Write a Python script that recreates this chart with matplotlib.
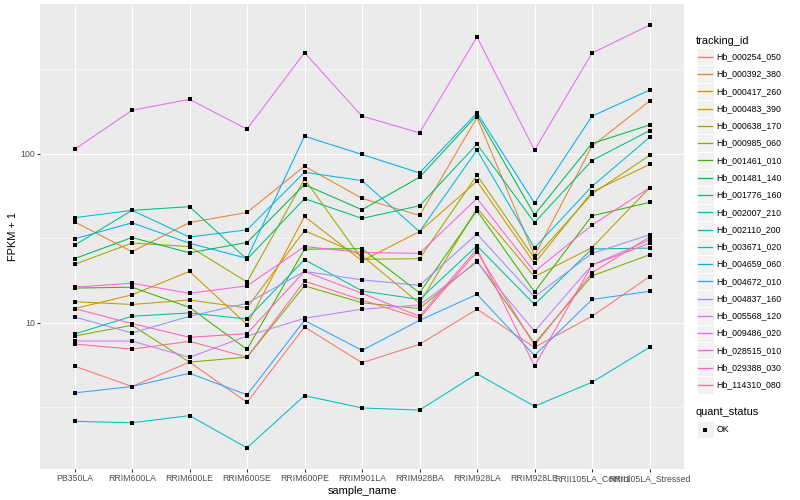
import numpy as np
import matplotlib
matplotlib.use('Agg')
import matplotlib.pyplot as plt
from matplotlib.patches import Rectangle
from matplotlib.lines import Line2D

plt.rcParams['font.family'] = ['Liberation Sans', 'DejaVu Sans']

samples = ['PB350LA', 'RRIM600LA', 'RRIM600LE', 'RRIM600SE', 'RRIM600PE', 'RRIM901LA',
           'RRIM928BA', 'RRIM928LA', 'RRIM928LE', 'RRII105LA_Control', 'RRII105LA_Stressed']

tracking_ids = ['Hb_000254_050', 'Hb_000392_380', 'Hb_000417_260', 'Hb_000483_390',
                'Hb_000638_170', 'Hb_000985_060', 'Hb_001461_010', 'Hb_001481_140',
                'Hb_001776_160', 'Hb_002007_210', 'Hb_002110_200', 'Hb_003671_020',
                'Hb_004659_060', 'Hb_004672_010', 'Hb_004837_160', 'Hb_005568_120',
                'Hb_009486_020', 'Hb_028515_010', 'Hb_029388_030', 'Hb_114310_080']

# FPKM + 1, one list per gene, in sample order
hb_000254_050 = [5.52, 4.18, 5.83, 3.37, 9.41, 5.78, 7.43, 12.0, 7.13, 10.9, 18.7]
hb_000392_380 = [39.5, 26.3, 39.1, 44.9, 84.4, 54.4, 43.1, 164, 24.9, 111, 205]
hb_000417_260 = [12.1, 14.6, 20.1, 9.73, 42.5, 23.2, 34.6, 68.7, 22.4, 59.4, 86.4]
hb_000483_390 = [13.3, 12.8, 13.6, 12.2, 35.1, 24.9, 13.0, 47.7, 18.7, 27.8, 62.8]
hb_000638_170 = [22.1, 29.6, 28.2, 17.4, 70.8, 23.7, 23.9, 74.6, 24.0, 57.8, 97.7]
hb_000985_060 = [8.32, 9.64, 5.83, 6.24, 16.5, 13.1, 12.1, 23.2, 7.53, 18.9, 25.2]
hb_001461_010 = [16.0, 16.2, 12.3, 6.93, 27.2, 27.4, 15.0, 46.0, 15.2, 42.9, 51.5]
hb_001481_140 = [23.9, 31.9, 25.9, 29.8, 65.7, 46.6, 72.6, 169, 43.5, 115, 148]
hb_001776_160 = [28.7, 46.2, 48.6, 23.7, 54.2, 41.4, 49.2, 114, 39.1, 91.2, 137]
hb_002007_210 = [8.55, 10.9, 11.4, 10.5, 23.6, 15.4, 13.7, 28.5, 12.8, 27.3, 27.6]
hb_002110_200 = [2.60, 2.55, 2.81, 1.81, 3.69, 3.12, 3.03, 4.97, 3.19, 4.43, 7.13]
hb_003671_020 = [41.8, 46.2, 32.1, 35.4, 77.7, 69.3, 34.6, 105, 27.7, 64.1, 125]
hb_004659_060 = [31.3, 39.0, 29.5, 24.0, 127, 99, 77, 175, 51, 167, 238]
hb_004672_010 = [3.83, 4.18, 5.01, 3.73, 10.3, 6.84, 10.3, 14.7, 6.38, 13.7, 15.3]
hb_004837_160 = [10.8, 8.67, 10.9, 13.0, 20.1, 17.9, 16.6, 33.5, 14.2, 25.7, 33.1]
hb_005568_120 = [7.77, 7.77, 6.22, 8.32, 10.6, 12.0, 12.7, 22.8, 8.87, 21.9, 30.9]
hb_009486_020 = [106, 181, 210, 140, 397, 167, 133, 492, 105, 395, 578]
hb_028515_010 = [16.2, 17.1, 14.9, 16.5, 28.2, 26.0, 25.7, 54.4, 20.0, 37.8, 62.8]
hb_029388_030 = [12.1, 9.86, 8.18, 8.6, 20.1, 14.9, 10.9, 27.3, 5.52, 21.9, 29.5]
hb_114310_080 = [7.46, 6.96, 7.74, 6.24, 17.6, 13.6, 10.6, 26.3, 7.33, 19.7, 32.1]

series = [hb_000254_050, hb_000392_380, hb_000417_260, hb_000483_390, hb_000638_170,
          hb_000985_060, hb_001461_010, hb_001481_140, hb_001776_160, hb_002007_210,
          hb_002110_200, hb_003671_020, hb_004659_060, hb_004672_010, hb_004837_160,
          hb_005568_120, hb_009486_020, hb_028515_010, hb_029388_030, hb_114310_080]

# ggplot hue palette for 20 levels
colors = ['#F8766D', '#EA8331', '#D89000', '#C09B00', '#A3A500', '#7CAE00', '#39B600',
          '#00BB4E', '#00BF7D', '#00C1A3', '#00BFC4', '#00BAE0', '#00B0F6', '#35A2FF',
          '#9590FF', '#C77CFF', '#E76BF3', '#FA62DB', '#FF62BC', '#FF6C91']

W, H = 800, 500
fig = plt.figure(figsize=(W / 72, H / 72), dpi=72)
ax = fig.add_axes([40 / W, 1 - 469 / H, 644 / W, 465 / H])
ax.set_facecolor('#EBEBEB')

x = np.arange(len(samples))
for i, (vals, c) in enumerate(zip(series, colors)):
    ax.plot(x, vals, color=c, lw=1.05, zorder=3 + i * 0.01, solid_capstyle='butt')
for vals in series:
    ax.plot(x, vals, ls='none', marker='s', ms=3.6, color='black', mew=0, zorder=5)

ax.set_yscale('log')
allv = np.log10(np.concatenate([np.array(s) for s in series]))
lo, hi = allv.min(), allv.max()
pad = (hi - lo) * 0.05
ax.set_ylim(10 ** (lo - pad), 10 ** (hi + pad))
ax.set_xlim(-0.6, len(samples) - 0.4)

ax.set_yticks([10, 100])
ax.set_yticklabels(['10', '100'])
ax.set_yticks([10 ** 0.5, 10 ** 1.5, 10 ** 2.5], minor=True)
ax.yaxis.set_minor_formatter(plt.NullFormatter())
ax.set_xticks(x)
ax.set_xticklabels(samples)

ax.grid(True, which='major', color='white', lw=1.07, zorder=1)
ax.grid(True, which='minor', axis='y', color='white', lw=0.53, zorder=1)
ax.set_axisbelow(True)
for s in ax.spines.values():
    s.set_visible(False)
ax.tick_params(which='major', length=2.75, width=1.07, color='#333333',
               labelcolor='#4D4D4D', labelsize=8.8, pad=2.2)
ax.tick_params(which='minor', length=0)

ax.set_xlabel('sample_name', fontsize=11, labelpad=2.75)
ax.set_ylabel('FPKM + 1', fontsize=11, labelpad=2.75)


def fx(px):
    return px / W


def fy(py):
    return 1 - py / H


# legend: tracking_id
key = 17.28
kx = 696.5
row0 = 56.7
fig.text(fx(696), fy(40.7), 'tracking_id', fontsize=11, va='center', ha='left')
for i, (name, c) in enumerate(zip(tracking_ids, colors)):
    cy = row0 + key * i
    fig.patches.append(Rectangle((fx(kx), fy(cy + key / 2)), key / W, key / H,
                                 transform=fig.transFigure, facecolor='#F2F2F2',
                                 edgecolor='white', lw=1, zorder=1))
    fig.lines.append(Line2D([fx(kx + 1.7), fx(kx + key - 1.7)], [fy(cy), fy(cy)],
                            transform=fig.transFigure, color=c, lw=1.3, zorder=4))
    fig.text(fx(716.7), fy(cy), name, fontsize=8.8, va='center', ha='left')

# legend: quant_status
fig.text(fx(696), fy(412.3), 'quant_status', fontsize=11, va='center', ha='left')
cy = 429.5
fig.patches.append(Rectangle((fx(kx), fy(cy + key / 2)), key / W, key / H,
                             transform=fig.transFigure, facecolor='#F2F2F2',
                             edgecolor='white', lw=1, zorder=1))
fig.lines.append(Line2D([fx(kx + key / 2)], [fy(cy)], transform=fig.transFigure,
                        ls='none', marker='s', ms=3.6, color='black', mew=0, zorder=4))
fig.text(fx(716.7), fy(cy), 'OK', fontsize=8.8, va='center', ha='left')

fig.savefig('out.png', dpi=72)
